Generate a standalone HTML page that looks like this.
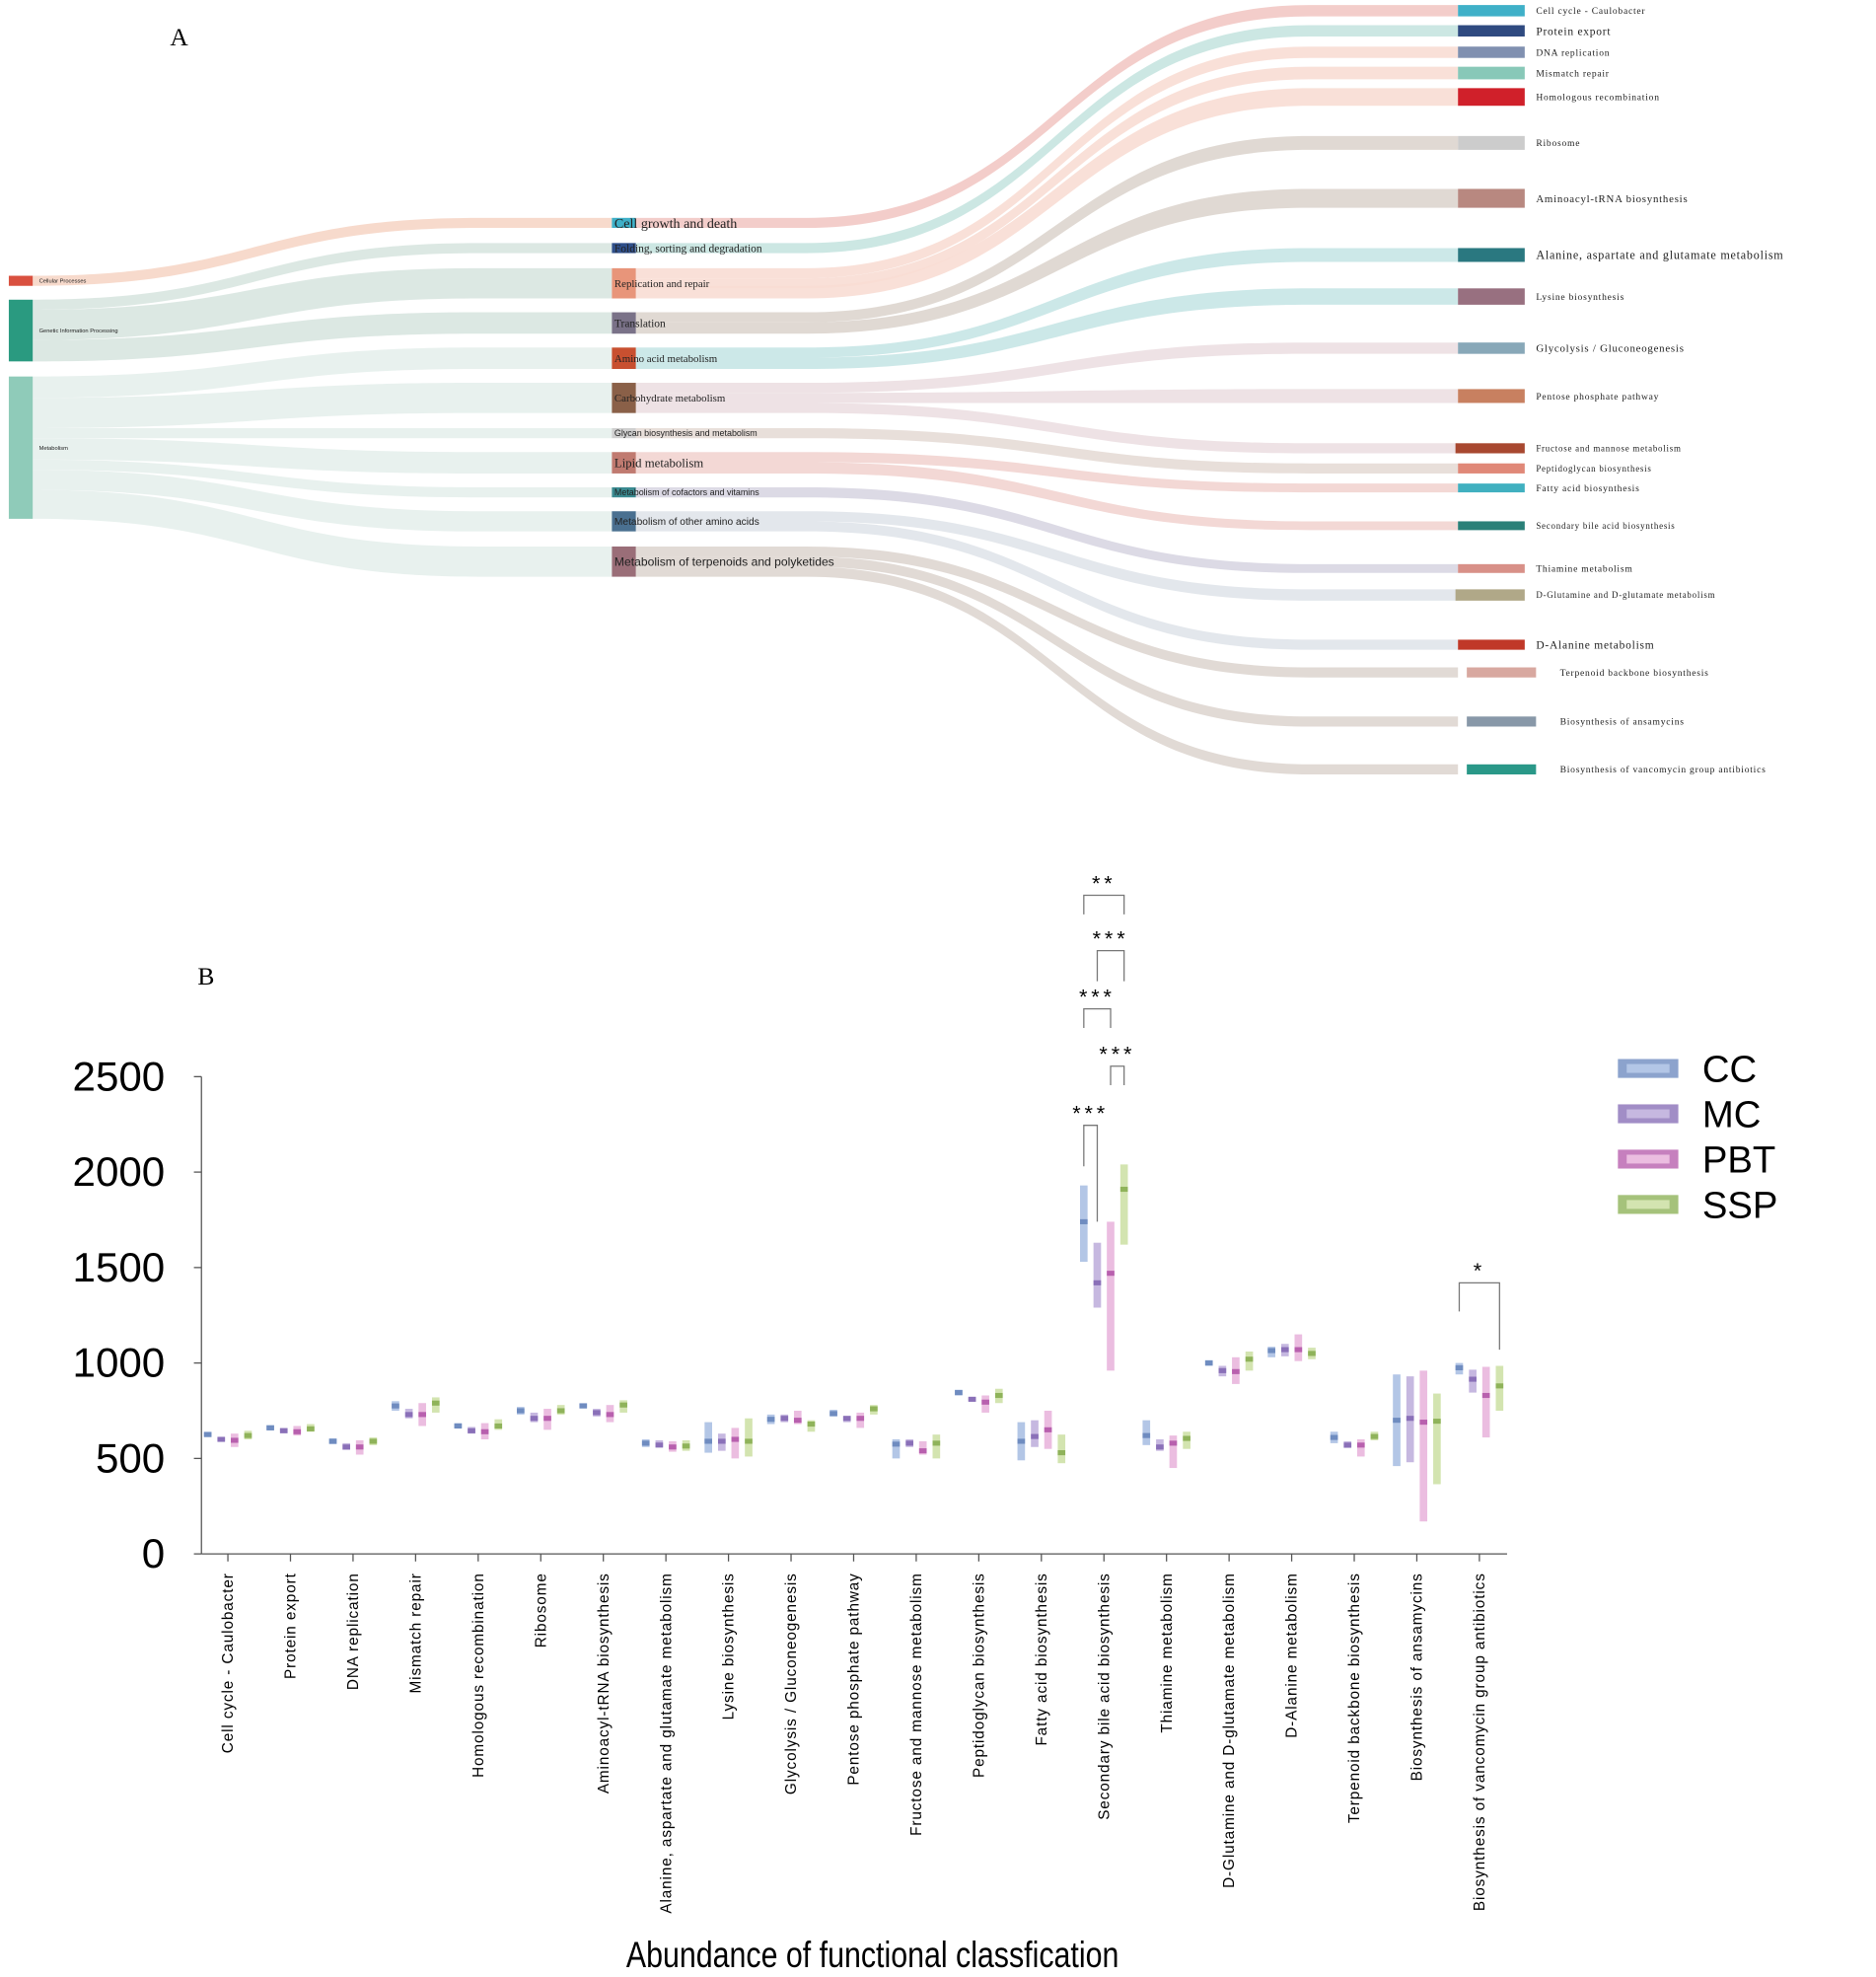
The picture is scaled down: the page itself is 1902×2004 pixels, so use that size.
<!DOCTYPE html>
<html><head><meta charset="utf-8"><style>
html,body{margin:0;padding:0;background:#fff;}
svg{display:block;}
</style></head><body>
<svg id="fig" width="1902" height="2004" viewBox="0 0 1490 1570" preserveAspectRatio="none" xmlns="http://www.w3.org/2000/svg">
<rect x="0" y="0" width="1490" height="1570" fill="#fff"/>
<text x="135" y="36" font-family="Liberation Serif, serif" font-size="20">A</text>
<text x="157" y="782" font-family="Liberation Serif, serif" font-size="20">B</text>
<g id="sankey"></g>
<g id="chart"></g>
</svg>
<script>
const NS='http://www.w3.org/2000/svg';
function mk(tag,attrs,parent){const e=document.createElementNS(NS,tag);for(const k in attrs)e.setAttribute(k,attrs[k]);parent.appendChild(e);return e;}
const sk=document.getElementById('sankey');

const leftNodes=[["Cellular Processes",7,26,219,227,"#d9503f",4.5],["Genetic Information Processing",7,26,238,287,"#2a9a80",4.5],["Metabolism",7,26,299,412,"#8fcbb9",4.5]];
const midNodes=[["Cell growth and death",486,505,173,181,"#3fb0c8",11,1],["Folding, sorting and degradation",486,505,193,201,"#2f4f8a",9,1],["Replication and repair",486,505,213,237,"#e8957a",8.5,1],["Translation",486,505,248,265,"#7a7288",9,1],["Amino acid metabolism",486,505,276,293,"#c85030",8.5,1],["Carbohydrate metabolism",486,505,304,328,"#8a6048",8.5,1],["Glycan biosynthesis and metabolism",486,505,340,348,"#cfcfcf",7,0],["Lipid metabolism",486,505,359,376,"#c07a70",10,1],["Metabolism of cofactors and vitamins",486,505,387,395,"#3a8a90",7,0],["Metabolism of other amino acids",486,505,406,422,"#4a7090",8,0],["Metabolism of terpenoids and polyketides",486,505,434,458,"#9a6e78",9.5,0]];
const rightNodes=[["Cell cycle - Caulobacter",1158,1211,4,13,"#3fb0c8",7.5],["Protein export",1158,1211,20,29,"#2f4a80",9],["DNA replication",1158,1211,37,46,"#8090b0",7.5],["Mismatch repair",1158,1211,53,63,"#88c8b8",7.5],["Homologous recombination",1158,1211,70,84,"#d0202a",7.5],["Ribosome",1158,1211,108,119,"#cccccc",7.5],["Aminoacyl-tRNA biosynthesis",1158,1211,150,165,"#b88880",8.5],["Alanine, aspartate and glutamate metabolism",1158,1211,197,208,"#2a7880",9.5],["Lysine biosynthesis",1158,1211,229,242,"#987080",7.5],["Glycolysis / Gluconeogenesis",1158,1211,272,281,"#88a8b8",8.5],["Pentose phosphate pathway",1158,1211,309,320,"#c88060",7.5],["Fructose and mannose metabolism",1156,1211,352,360,"#a84830",7],["Peptidoglycan biosynthesis",1158,1211,368,376,"#e08878",7],["Fatty acid biosynthesis",1158,1211,384,391,"#40b0c0",7.5],["Secondary bile acid biosynthesis",1158,1211,414,421,"#2a8078",7],["Thiamine metabolism",1158,1211,448,455,"#d89088",7.5],["D-Glutamine and D-glutamate metabolism",1156,1211,468,477,"#b0a888",7],["D-Alanine metabolism",1158,1211,508,516,"#c03828",9],["Terpenoid backbone biosynthesis",1165,1220,530,538,"#d8a8a0",7.5],["Biosynthesis of ansamycins",1165,1220,569,577,"#8898a8",7.5],["Biosynthesis of vancomycin group antibiotics",1165,1220,607,615,"#2a9888",7.5]];

const links=[[219,227,173,181,"#f6d6c6",0],[238,246,193,201,"#d8e6e0",0],[246,270,213,237,"#d8e6e0",0],[270,287,248,265,"#d8e6e0",0],
[299,316,276,293,"#e6f0ec",0],[316,340,304,328,"#e6f0ec",0],[340,348,340,348,"#e6f0ec",0],[348,365,359,376,"#e6f0ec",0],[365,373,387,395,"#e6f0ec",0],[373,389,406,422,"#e6f0ec",0],[389,412,434,458,"#e6f0ec",0],
[173,181,4,13,"#f2c8c4",1],[193,201,20,29,"#c6e4e0",1],[213,221,37,46,"#f8ddd4",1],[221,229,53,63,"#f8ddd4",1],[227,237,70,84,"#f8ddd4",1],
[248,256,108,119,"#ddd5ce",1],[256,265,150,165,"#ddd5ce",1],[276,284,197,208,"#c6e6e6",1],[284,293,229,242,"#c6e6e6",1],
[304,312,272,281,"#ecdfe2",1],[312,320,309,320,"#ecdfe2",1],[320,328,352,360,"#ecdfe2",1],[340,348,368,376,"#e6dcd6",1],
[359,367,384,391,"#f2d4d0",1],[367,376,414,421,"#f2d4d0",1],[387,395,448,455,"#d8d6e2",1],[406,414,468,477,"#e0e4ea",1],[414,422,508,516,"#e0e4ea",1],
[434,442,530,538,"#ded6d0",1],[442,450,569,577,"#ded6d0",1],[450,458,607,615,"#ded6d0",1]];

for(const L of links){
  let xs,xa,xb,xe;
  if(L[5]===0){xs=26;xa=26;xb=380;xe=486;}else{xs=505;xa=640;xb=1040;xe=1158;}
  const m=(xa+xb)/2;
  const d=`M${xs},${L[0]} L${xa},${L[0]} C${m},${L[0]} ${m},${L[2]} ${xb},${L[2]} L${xe},${L[2]} L${xe},${L[3]} L${xb},${L[3]} C${m},${L[3]} ${m},${L[1]} ${xa},${L[1]} L${xs},${L[1]} Z`;
  const p=mk('path',{d:d,fill:L[4],opacity:'0.9'},sk);
  
  
}
function drawNodes(arr,col){
  for(const n of arr){
    const r=mk('rect',{x:n[1],y:n[3],width:n[2]-n[1],height:n[4]-n[3],fill:n[5]},sk);
    
    
    let tx,ff,ls=0;
    if(col===0){tx=n[2]+5;ff='Liberation Sans, sans-serif';}
    else if(col===1){tx=n[1]+2;ff=n[7]?'Liberation Serif, serif':'Liberation Sans, sans-serif';}
    else{tx=n[2]+9+(n[1]>1160?10:0);ff='Liberation Serif, serif';ls=0.6;}
    const t=mk('text',{x:tx,y:(n[3]+n[4])/2+n[6]*0.35,'font-size':n[6],'font-family':ff,fill:'#222','letter-spacing':ls},sk);
    t.textContent=n[0];
    
    
  }
}
drawNodes(leftNodes,0);drawNodes(midNodes,1);drawNodes(rightNodes,2);

const categories=["Cell cycle - Caulobacter","Protein export","DNA replication","Mismatch repair","Homologous recombination","Ribosome","Aminoacyl-tRNA biosynthesis","Alanine, aspartate and glutamate metabolism","Lysine biosynthesis","Glycolysis / Gluconeogenesis","Pentose phosphate pathway","Fructose and mannose metabolism","Peptidoglycan biosynthesis","Fatty acid biosynthesis","Secondary bile acid biosynthesis","Thiamine metabolism","D-Glutamine and D-glutamate metabolism","D-Alanine metabolism","Terpenoid backbone biosynthesis","Biosynthesis of ansamycins","Biosynthesis of vancomycin group antibiotics"];
const groups=["CC","MC","PBT","SSP"];
const ccMed=[625,660,590,775,670,750,775,580,590,705,735,575,845,590,1740,620,1000,1065,610,700,975];
const ccLow=[615,650,575,750,660,730,765,560,530,680,720,500,830,490,1530,570,985,1030,580,460,940];
const ccHigh=[640,675,605,800,685,770,790,600,690,730,755,600,860,690,1930,700,1015,1085,640,940,1000];
const mcMed=[600,645,560,730,645,710,740,570,590,710,710,580,810,615,1420,560,960,1070,570,710,915];
const mcLow=[590,635,545,710,630,690,720,560,540,690,690,560,800,560,1290,540,930,1035,555,480,845];
const mcHigh=[610,660,580,760,665,740,760,595,630,730,720,600,820,700,1630,600,985,1100,590,930,965];
const pbtMed=[595,640,560,730,640,710,730,560,600,700,710,540,795,650,1470,580,955,1070,570,690,830];
const pbtLow=[560,620,520,670,600,650,690,535,500,680,660,520,740,550,960,450,890,1010,510,170,610];
const pbtHigh=[630,670,595,790,685,760,780,590,660,750,740,590,830,750,1740,620,1030,1150,600,960,980];
const sspMed=[620,655,590,790,670,750,780,565,590,680,760,580,830,530,1910,605,1020,1050,615,695,880];
const sspLow=[600,640,570,740,650,730,740,540,510,640,730,500,790,475,1620,550,960,1020,595,365,750];
const sspHigh=[645,680,610,820,705,780,805,595,710,700,780,625,865,625,2040,640,1060,1080,640,840,985];
const yTicks=[0,500,1000,1500,2000,2500];
const sigCats=[14,14,14,14,14,20];
const sigA=[0,2,0,1,0,0];
const sigB=[1,3,2,3,3,3];
const sigLabels=["***","***","***","***","**","*"];
const sigTop=[2245,2555,2855,3160,3450,1420];
const sigLegA=[2030,2455,2755,3000,3350,1270];
const sigLegB=[1740,2455,2755,3000,3350,1070];

const meds=[ccMed,mcMed,pbtMed,sspMed],lows=[ccLow,mcLow,pbtLow,sspLow],highs=[ccHigh,mcHigh,pbtHigh,sspHigh];
const lightC=["#b3c6e6","#c6b8e0","#ebbde0","#d3e4b0"];
const darkC=["#6f8cc0","#8a70b8","#b860ae","#8fb35a"];
const x0=160,x1=1197,yBase=1234,yTop=855,vMax=2500;
const yS=v=>yBase-v*(yBase-yTop)/vMax;
const xC=i=>181+i*(1175-181)/(categories.length-1);
const off=[-16,-5.3,5.3,16];
const ch=document.getElementById('chart');

const ya=mk('line',{x1:x0,y1:yTop,x2:x0,y2:yBase,stroke:'#555','stroke-width':1},ch);


const xa=mk('line',{x1:x0,y1:yBase,x2:x1,y2:yBase,stroke:'#555','stroke-width':1},ch);


for(const v of yTicks){
  const tk=mk('line',{x1:x0-6,y1:yS(v),x2:x0,y2:yS(v),stroke:'#555'},ch);
  
  
  const t=mk('text',{x:0,y:0,transform:`translate(131,${yS(v)+11}) scale(1.1,1.1)`,'text-anchor':'end','font-size':30,'font-family':'Liberation Sans, sans-serif'},ch);
  t.textContent=v;
  
  
}
categories.forEach((c,i)=>{
  const tk=mk('line',{x1:xC(i),y1:yBase,x2:xC(i),y2:yBase+6,stroke:'#555'},ch);
  
  
  const t=mk('text',{x:0,y:0,transform:`translate(${xC(i)+4},1249) rotate(-90)`,'text-anchor':'end','font-size':12,'letter-spacing':0.7,'font-family':'Liberation Sans, sans-serif'},ch);
  t.textContent=c;
  
  
  for(let g=0;g<4;g++){
    const cx=xC(i)+off[g];
    const r=mk('rect',{x:cx-3,y:yS(highs[g][i]),width:6,height:yS(lows[g][i])-yS(highs[g][i]),fill:lightC[g]},ch);
    
    
    const m=mk('rect',{x:cx-3,y:yS(meds[g][i])-2,width:6,height:4,fill:darkC[g]},ch);
    
    
  }
});
for(let k=0;k<sigLabels.length;k++){
  const xa_=xC(sigCats[k])+off[sigA[k]],xb_=xC(sigCats[k])+off[sigB[k]];
  const p=mk('path',{d:`M${xa_},${yS(sigLegA[k])} L${xa_},${yS(sigTop[k])} L${xb_},${yS(sigTop[k])} L${xb_},${yS(sigLegB[k])}`,fill:'none',stroke:'#777','stroke-width':1},ch);
  
  
  const t=mk('text',{x:(xa_+xb_)/2,y:yS(sigTop[k])-4,'text-anchor':'middle','font-size':17,'letter-spacing':3,'font-family':'Liberation Sans, sans-serif'},ch);
  t.textContent=sigLabels[k];
  
  
}
groups.forEach((g,k)=>{
  const y=841+k*36;
  const o=mk('rect',{x:1285,y:y,width:48,height:15,fill:darkC[k],opacity:0.8},ch);
  
  
  const n=mk('rect',{x:1292,y:y+4,width:34,height:7,fill:lightC[k]},ch);
  
  
  const t=mk('text',{x:1352,y:y+18,'font-size':30,'font-family':'Liberation Sans, sans-serif'},ch);
  t.textContent=g;
  
  
});
const at=mk('text',{x:0,y:0,transform:'translate(693,1562) scale(0.82,1)','text-anchor':'middle','font-size':29,'font-family':'Liberation Sans, sans-serif'},ch);
at.textContent='Abundance of functional classfication';


</script>
</body></html>
